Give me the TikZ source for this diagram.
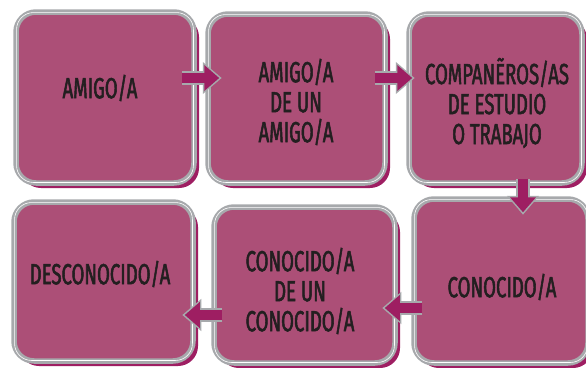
\documentclass[tikz,border=0pt]{standalone}
\usepackage{fontspec}
\setmainfont{Fira Sans}[FakeStretch=0.64, FakeBold=1.8]
\usetikzlibrary{shadows,arrows.meta,calc}
\definecolor{boxfill}{HTML}{AC4F77}
\definecolor{shade}{HTML}{9E1E62}
\definecolor{rim}{HTML}{A7A9AC}
\definecolor{ink}{HTML}{231F20}
\tikzset{
  box/.style={draw=rim, line width=5.5pt, fill=boxfill, rounded corners=20pt, inner sep=0pt,
    drop shadow={shadow xshift=5pt, shadow yshift=-5pt, fill=shade, opacity=1}},
  innerline/.style={draw=white, line width=0.6pt, rounded corners=17pt},
  lbl/.style={text=ink, font=\fontsize{29}{30}\selectfont, align=center, inner sep=0pt},
  arr/.style={line width=10pt, draw=shade, -{Triangle[length=15pt,width=25pt]},
    preaction={draw=rim, line width=14pt, shorten >=-2.5pt, -{Triangle[length=19pt,width=31pt]}}}
}
\begin{document}
\begin{tikzpicture}[x=1pt,y=-1pt]
\useasboundingbox (0,0) rectangle (586,367);
% boxes
\node[box, minimum width=178pt, minimum height=171pt] (b1) at (105,97.5) {};
\node[box, minimum width=177pt, minimum height=169pt] (b2) at (296.5,98.5) {};
\node[box, minimum width=173pt, minimum height=169pt] (b3) at (495.5,98.5) {};
\node[box, minimum width=179pt, minimum height=159pt] (b4) at (103.5,281.5) {};
\node[box, minimum width=181pt, minimum height=156pt] (b5) at (304.5,285) {};
\node[box, minimum width=174pt, minimum height=164pt] (b6) at (501,281) {};
\foreach \b in {b1,b2,b3,b4,b5,b6}{
  \draw[innerline] ($(\b.north west)+(3.3,3.3)$) rectangle ($(\b.south east)+(-3.3,-3.3)$);
}
% labels
\node[lbl] (t1) at (100,88) {AMIGO/A};
\node[lbl] (t2) at (296,102) {AMIGO/A\\DE UN\\AMIGO/A};
\node[lbl] (t3) at (497,103) {COMPANẼROS/AS\\DE ESTUDIO\\O TRABAJO};
\node[lbl] (t4) at (100,274) {DESCONOCIDO/A};
\node[lbl] (t5) at (300,291) {CONOCIDO/A\\DE UN\\CONOCIDO/A};
\node[lbl] (t6) at (502,287) {CONOCIDO/A};
% arrows
\draw[arr] ([shift={(-15,-19.5)}]b1.east) -- ([shift={(14,-20.5)}]b2.west);
\draw[arr] ([shift={(-13,-20.5)}]b2.east) -- ([shift={(6,-20.5)}]b3.west);
\draw[arr] ([shift={(27.5,-7)}]b3.south) -- ([shift={(22,16)}]b6.north);
\draw[arr] ([shift={(11,27)}]b6.west) -- ([shift={(-13,23)}]b5.east);
\draw[arr] ([shift={(11,30)}]b5.west) -- ([shift={(-11,33.5)}]b4.east);
\end{tikzpicture}
\end{document}
